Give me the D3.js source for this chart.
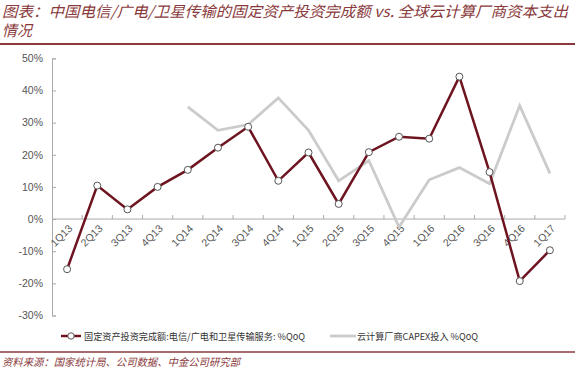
<!DOCTYPE html>
<html>
<head>
<meta charset="utf-8">
<script src="https://cdn.jsdelivr.net/npm/d3@7"></script>
<style>
  body { margin: 0; background: #fff; }
  svg { display: block; font-family: "Liberation Sans", Arial, sans-serif; }
  .title { font-family: "Noto Sans CJK SC", sans-serif; font-style: italic; fill: #8a3a3c; font-size: 15px; }
  .tick text { fill: #555; font-size: 10.5px; }
  .legend text { font-family: "Noto Sans CJK SC", sans-serif; font-size: 9.5px; fill: #333; }
  .source { font-family: "Noto Sans CJK SC", sans-serif; font-style: italic; font-size: 10.5px; fill: #8a3a3c; }
</style>
</head>
<body>
<svg width="575" height="371"></svg>
<script>
const quarters = ["1Q13","2Q13","3Q13","4Q13","1Q14","2Q14","3Q14","4Q14","1Q15","2Q15","3Q15","4Q15","1Q16","2Q16","3Q16","4Q16","1Q17"];
// 固定资产投资完成额 %QoQ
const telecomCapex = [-15.6, 10.4, 3.0, 10.0, 15.3, 22.2, 28.7, 11.9, 20.7, 4.7, 20.8, 25.6, 25.0, 44.3, 14.6, -19.3, -9.7];
// 云计算厂商CAPEX %QoQ (starts 1Q14)
const cloudCapex = [null, null, null, null, 34.9, 27.6, 29.4, 37.7, 27.6, 11.9, 18.2, -2.5, 12.2, 16.0, 11.0, 35.3, 14.2];
const yTicks = [-30, -20, -10, 0, 10, 20, 30, 40, 50];

const svg = d3.select("svg");
const margin = {top: 58, left: 52, right: 10};
const plotRight = 565;

const x = d3.scaleBand().domain(quarters).range([margin.left, plotRight]);
const y = d3.scaleLinear().domain([-30, 50]).range([315.5, 58.3]);

// title
const title = svg.append("g").attr("class", "title");
title.append("text").attr("x", 2).attr("y", 17)
  .attr("textLength", 566).attr("lengthAdjust", "spacingAndGlyphs")
  .text("图表：中国电信/广电/卫星传输的固定资产投资完成额 vs. 全球云计算厂商资本支出");
title.append("text").attr("x", 2).attr("y", 36).text("情况");
svg.append("line").attr("x1", 0).attr("x2", 575).attr("y1", 44).attr("y2", 44)
  .attr("stroke", "#8a3a3c").attr("stroke-width", 2);

// y axis
const yAxis = svg.append("g")
  .attr("transform", `translate(${margin.left},0)`)
  .call(d3.axisLeft(y).tickValues(yTicks).tickSize(-4).tickPadding(9).tickFormat(d => d + "%"));
yAxis.selectAll("path, line").attr("stroke", "#aaa");
yAxis.selectAll("text").attr("fill", "#555");

// x axis at 0
const xAxis = svg.append("g").attr("transform", `translate(0,${y(0)})`);
xAxis.append("line").attr("x1", margin.left).attr("x2", plotRight)
  .attr("stroke", "#aaa");
xAxis.selectAll(".xt").data(quarters.slice(1).concat(["_end"]))
  .enter().append("line")
  .attr("x1", (d, i) => margin.left + (i + 1) * x.step())
  .attr("x2", (d, i) => margin.left + (i + 1) * x.step())
  .attr("y1", 0).attr("y2", -4).attr("stroke", "#aaa");
xAxis.selectAll(".xl").data(quarters).enter().append("text")
  .attr("font-size", "10.5px").attr("fill", "#555")
  .attr("text-anchor", "end")
  .attr("transform", d => `translate(${x(d) + x.bandwidth() / 2 + 6},${10}) rotate(-45)`)
  .text(d => d);

const cx = d => x(d) + x.bandwidth() / 2;

// cloud series
const cloudData = quarters.map((q, i) => ({q, v: cloudCapex[i]})).filter(d => d.v !== null);
svg.append("path").datum(cloudData)
  .attr("fill", "none").attr("stroke", "#cbcbcb").attr("stroke-width", 2.8)
  .attr("d", d3.line().x(d => cx(d.q)).y(d => y(d.v)));

// telecom series
const telData = quarters.map((q, i) => ({q, v: telecomCapex[i]}));
svg.append("path").datum(telData)
  .attr("fill", "none").attr("stroke", "#6e1420").attr("stroke-width", 2.5)
  .attr("d", d3.line().x(d => cx(d.q)).y(d => y(d.v)));
svg.selectAll(".dot").data(telData).enter().append("circle")
  .attr("cx", d => cx(d.q)).attr("cy", d => y(d.v)).attr("r", 3.5)
  .attr("fill", "#fff").attr("stroke", "#555").attr("stroke-width", 1);

// legend
const legend = svg.append("g").attr("class", "legend");
legend.append("line").attr("x1", 61).attr("x2", 81).attr("y1", 336).attr("y2", 336)
  .attr("stroke", "#6e1420").attr("stroke-width", 2.5);
legend.append("circle").attr("cx", 71).attr("cy", 336).attr("r", 3.2)
  .attr("fill", "#fff").attr("stroke", "#555");
legend.append("text").attr("x", 84).attr("y", 339.5)
  .attr("textLength", 221).attr("lengthAdjust", "spacingAndGlyphs")
  .text("固定资产投资完成额:电信/广电和卫星传输服务: %QoQ");
legend.append("line").attr("x1", 330).attr("x2", 356).attr("y1", 336).attr("y2", 336)
  .attr("stroke", "#cbcbcb").attr("stroke-width", 2.8);
legend.append("text").attr("x", 357).attr("y", 339.5)
  .attr("textLength", 121).attr("lengthAdjust", "spacingAndGlyphs")
  .text("云计算厂商CAPEX投入 %QoQ");

// source
svg.append("line").attr("x1", 0).attr("x2", 575).attr("y1", 352).attr("y2", 352)
  .attr("stroke", "#8a3a3c").attr("stroke-width", 1.5);
svg.append("text").attr("class", "source").attr("x", 2).attr("y", 366)
  .attr("textLength", 238).attr("lengthAdjust", "spacingAndGlyphs")
  .text("资料来源：国家统计局、公司数据、中金公司研究部");
</script>
</body>
</html>
